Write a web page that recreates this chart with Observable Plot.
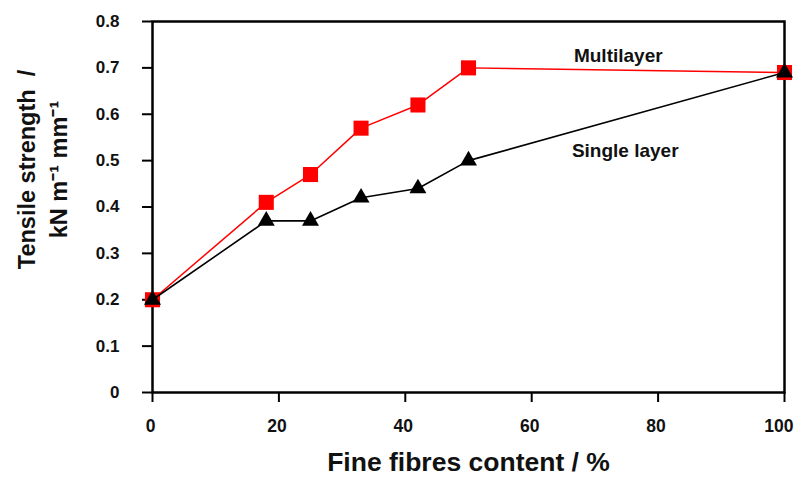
<!DOCTYPE html>
<html>
<head>
<meta charset="utf-8">
<script src="https://cdn.jsdelivr.net/npm/d3@7"></script>
<script src="https://cdn.jsdelivr.net/npm/@observablehq/plot@0.6"></script>
<style>
  html, body { margin: 0; padding: 0; background: #fff; }
  #chart svg { display: block; }
</style>
</head>
<body>
<div id="chart"></div>
<script>
// Data
const fibresContent = [0, 18, 25, 33, 42, 50, 100];
const multilayer    = [0.20, 0.41, 0.47, 0.57, 0.62, 0.70, 0.69];
const singleLayer   = [0.20, 0.37, 0.37, 0.42, 0.44, 0.50, 0.69];
const xTicks = [0, 20, 40, 60, 80, 100];
const yTicks = [0, 0.1, 0.2, 0.3, 0.4, 0.5, 0.6, 0.7, 0.8];
const seriesNames = ["Multilayer", "Single layer"];
const seriesLabelX = [73.7, 74.8];
const seriesLabelY = [0.726, 0.521];
const xTitle = "Fine fibres content / %";
const yTitle = "Tensile strength  /\nkN m\u207B\u00B9 mm\u207B\u00B9";

const multi = fibresContent.map((x, i) => ({x, y: multilayer[i]}));
const single = fibresContent.map((x, i) => ({x, y: singleLayer[i]}));
const labels = seriesNames.map((name, i) => ({name, x: seriesLabelX[i], y: seriesLabelY[i]}));
const xMax = xTicks[xTicks.length - 1];

const chart = Plot.plot({
  width: 795,
  height: 477,
  marginLeft: 152,
  marginRight: 11,
  marginTop: 21,
  marginBottom: 85,
  style: {fontFamily: "'Liberation Sans', Arial, sans-serif", fontWeight: "bold", background: "#fff", color: "#000", overflow: "visible"},
  x: {domain: [0, 100]},
  y: {domain: [0, 0.8]},
  marks: [
    Plot.axisX({ticks: xTicks, tickSize: 10, strokeWidth: 2, label: null, tickFormat: () => ""}),
    Plot.text(xTicks, {filter: d => d !== xMax, x: d => d, text: d => String(d), frameAnchor: "bottom", lineAnchor: "middle", dy: 34, dx: -2, fontSize: 17.5, fontWeight: "bold", fill: "#111"}),
    Plot.text(xTicks, {filter: d => d === xMax, x: d => d, text: d => String(d), frameAnchor: "bottom", lineAnchor: "middle", textAnchor: "end", dy: 34, dx: 9, fontSize: 17.5, fontWeight: "bold", fill: "#111"}),
    Plot.axisY({ticks: yTicks, tickSize: 10, tickPadding: 23, fontSize: 17, strokeWidth: 2, fill: "#111", label: null, tickFormat: d => d === 0 ? "0" : d.toFixed(1)}),
    Plot.frame({stroke: "#000", strokeWidth: 2.5}),
    Plot.line(multi, {x: "x", y: "y", stroke: "#ff0000", strokeWidth: 1.5}),
    Plot.dot(multi, {x: "x", y: "y", symbol: "square", r: 8.5, fill: "#ff0000", stroke: "none"}),
    Plot.line(single, {x: "x", y: "y", stroke: "#000", strokeWidth: 1.6}),
    Plot.dot(single, {x: "x", y: "y", symbol: "triangle", r: 6.3, fill: "#000", stroke: "none"}),
    Plot.text(labels, {x: "x", y: "y", text: "name", fontSize: 19, fontWeight: "bold", fill: "#111"}),
    Plot.text([xTitle], {frameAnchor: "bottom", dy: 78, fontSize: 26.5, fontWeight: "bold", fill: "#111"}),
    Plot.text([yTitle], {frameAnchor: "left", textAnchor: "middle", lineAnchor: "middle", dx: -112, dy: -37.5, rotate: -90, fontSize: 23.5, fontWeight: "bold", lineHeight: 1.36, fill: "#111"})
  ]
});
document.getElementById("chart").appendChild(chart);
</script>
</body>
</html>
